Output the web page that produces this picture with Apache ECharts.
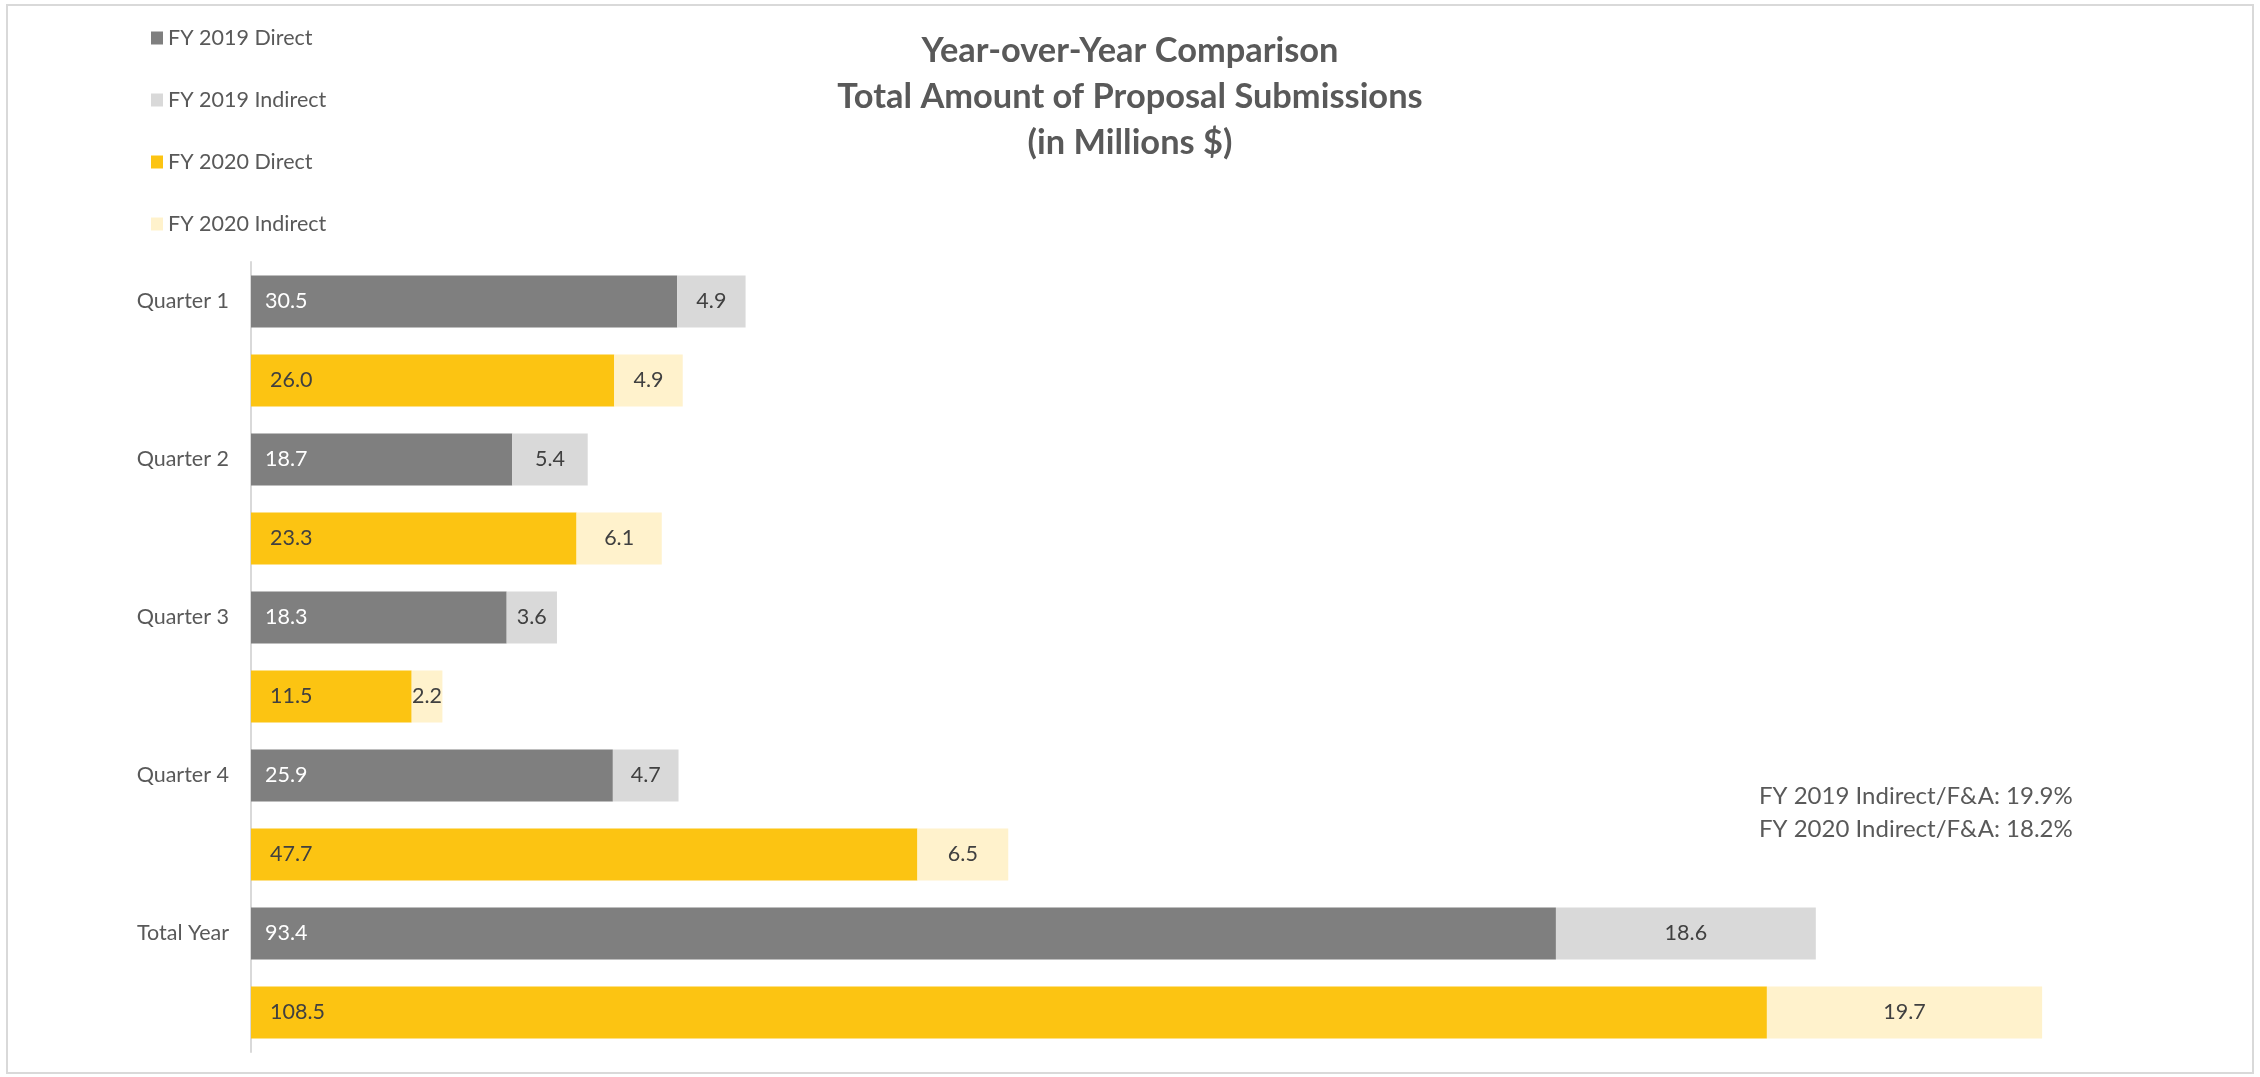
<!DOCTYPE html>
<html>
<head>
<meta charset="utf-8">
<script src="https://cdn.jsdelivr.net/npm/echarts@6/dist/echarts.min.js"></script>
<style>
html,body{margin:0;padding:0;background:#fff;}
#chart{width:2260px;height:1077px;}
</style>
</head>
<body>
<div id="chart"></div>
<script>
// ---- data ----
const periods = ['Quarter 1', 'Quarter 2', 'Quarter 3', 'Quarter 4', 'Total Year'];
const fy2019Direct = [30.5, 18.7, 18.3, 25.9, 93.4];
const fy2019Indirect = [4.9, 5.4, 3.6, 4.7, 18.6];
const fy2020Direct = [26.0, 23.3, 11.5, 47.7, 108.5];
const fy2020Indirect = [4.9, 6.1, 2.2, 6.5, 19.7];
const seriesNames = ['FY 2019 Direct', 'FY 2019 Indirect', 'FY 2020 Direct', 'FY 2020 Indirect'];
const titleLines = ['Year-over-Year Comparison', 'Total Amount of Proposal Submissions', '(in Millions $)'];
const noteLines = ['FY 2019 Indirect/F&A: 19.9%', 'FY 2020 Indirect/F&A: 18.2%'];

// interleave: each period gets a 2019 row then a 2020 row
const rows = [];
periods.forEach(p => { rows.push(p + '|2019'); rows.push(p + '|2020'); });
function rowData(values, yearSlot) {
  const out = [];
  values.forEach(v => {
    if (yearSlot === 0) { out.push(v); out.push(null); }
    else { out.push(null); out.push(v); }
  });
  return out;
}

const FONT = 'Lato';
const TXT = '#595959';
const LBL = '#404040';

function mkSeries(name, values, slot, color, labelColor, pos, dist) {
  return {
    name: name,
    type: 'bar',
    stack: 'all',
    barWidth: 52,
    data: rowData(values, slot),
    itemStyle: { color: color },
    label: {
      show: true,
      position: pos,
      distance: dist,
      color: labelColor,
      fontSize: 21.5,
      fontFamily: FONT,
      formatter: p => (p.value == null ? '' : Number(p.value).toFixed(1))
    },
    emphasis: { disabled: true }
  };
}

const chart = echarts.init(document.getElementById('chart'));
chart.setOption({
  animation: false,
  backgroundColor: '#fff',
  title: {
    text: titleLines.join('\n'),
    left: 'center',
    top: 28,
    padding: 0,
    textStyle: { fontFamily: FONT, fontSize: 34.4, fontWeight: 'bold', color: TXT, lineHeight: 46 }
  },
  legend: {
    orient: 'vertical',
    left: 146,
    top: 22,
    itemWidth: 12,
    itemHeight: 13,
    itemGap: 40,
    icon: 'rect',
    selectedMode: false,
    data: seriesNames,
    textStyle: { fontFamily: FONT, fontSize: 21.5, color: TXT }
  },
  grid: { left: 251, top: 262, height: 790, width: 1956, containLabel: false },
  xAxis: { type: 'value', min: 0, max: 140, show: false },
  yAxis: {
    type: 'category',
    inverse: true,
    data: rows,
    axisLine: { show: true, lineStyle: { color: '#d9d9d9', width: 2 } },
    axisTick: { show: false },
    axisLabel: {
      margin: 22,
      fontFamily: FONT,
      fontSize: 21.5,
      color: TXT,
      interval: 0,
      formatter: v => (v.endsWith('|2019') ? v.split('|')[0] : '')
    }
  },
  series: [
    mkSeries(seriesNames[0], fy2019Direct, 0, '#7f7f7f', '#ffffff', 'insideLeft', 14),
    mkSeries(seriesNames[1], fy2019Indirect, 0, '#d9d9d9', LBL, 'inside', 5),
    mkSeries(seriesNames[2], fy2020Direct, 1, '#fcc412', LBL, 'insideLeft', 19),
    mkSeries(seriesNames[3], fy2020Indirect, 1, '#fff2cc', LBL, 'inside', 5)
  ],
  graphic: [
    {
      type: 'rect',
      silent: true,
      shape: { x: 7, y: 5, width: 2246, height: 1068 },
      style: { fill: null, stroke: '#d9d9d9', lineWidth: 2 }
    },
    {
      type: 'text',
      x: 1759,
      y: 780,
      silent: true,
      style: {
        text: noteLines.join('\n'),
        fontFamily: FONT,
        fontSize: 24,
        lineHeight: 33,
        fill: TXT,
        textVerticalAlign: 'top'
      }
    }
  ]
});
</script>
</body>
</html>
